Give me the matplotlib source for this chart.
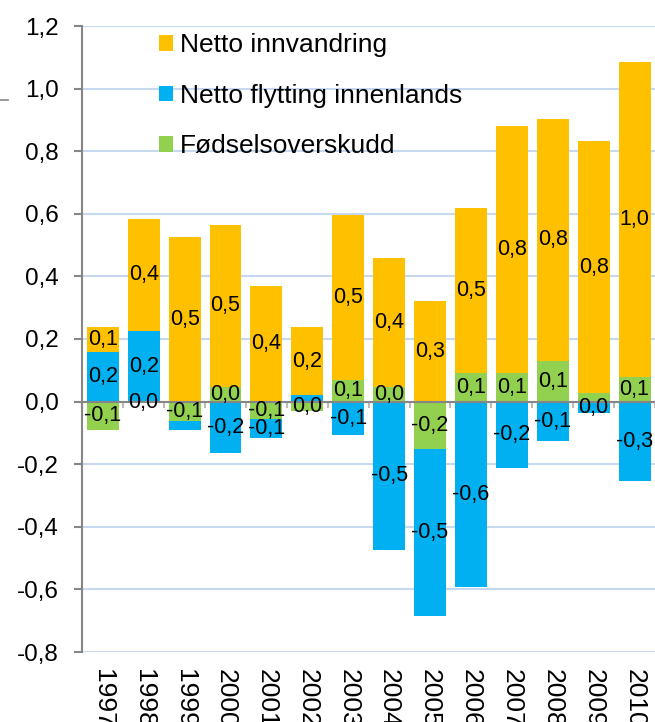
import numpy as np
import matplotlib
matplotlib.use("Agg")
import matplotlib.pyplot as plt
from matplotlib.lines import Line2D

years = ["1997", "1998", "1999", "2000", "2001", "2002", "2003",
         "2004", "2005", "2006", "2007", "2008", "2009", "2010"]

series_names = ["Fødselsoverskudd", "Netto flytting innenlands", "Netto innvandring"]
fodsel = [-0.091, -0.005, -0.061, 0.048, -0.057, -0.030, 0.069,
          0.048, -0.152, 0.092, 0.092, 0.130, 0.026, 0.080]
flytting = [0.158, 0.226, -0.030, -0.165, -0.058, 0.021, -0.107,
            -0.474, -0.532, -0.591, -0.212, -0.125, -0.037, -0.254]
innvandring = [0.079, 0.357, 0.527, 0.517, 0.369, 0.216, 0.527,
               0.411, 0.322, 0.527, 0.789, 0.774, 0.808, 1.005]

fodsel_labels = ["-0,1", "0,0", "-0,1", "0,0", "-0,1", "0,0", "0,1",
                 "0,0", "-0,2", "0,1", "0,1", "0,1", "", "0,1"]
flytting_labels = ["0,2", "0,2", "", "-0,2", "-0,1", "", "-0,1",
                   "-0,5", "-0,5", "-0,6", "-0,2", "-0,1", "0,0", "-0,3"]
innvandring_labels = ["0,1", "0,4", "0,5", "0,5", "0,4", "0,2", "0,5",
                      "0,4", "0,3", "0,5", "0,8", "0,8", "0,8", "1,0"]

yticks = [-0.8, -0.6, -0.4, -0.2, 0.0, 0.2, 0.4, 0.6, 0.8, 1.0, 1.2]
ytick_labels = ["-0,8", "-0,6", "-0,4", "-0,2", "0,0", "0,2", "0,4", "0,6", "0,8", "1,0", "1,2"]

colors = ["#92D050", "#00B0F0", "#FFC000"]

plt.rcParams['font.family'] = ['Liberation Sans', 'DejaVu Sans']

fig = plt.figure(figsize=(6.55, 7.22), dpi=100)
ax = fig.add_axes([82/655, 1-652/722, 1-82/655, (652-26)/722])

n = len(years)
x = np.arange(n)
pos_bottom = np.zeros(n)
neg_bottom = np.zeros(n)
handles = []
for vals, labs, col, name in zip([fodsel, flytting, innvandring],
                                 [fodsel_labels, flytting_labels, innvandring_labels],
                                 colors, series_names):
    v = np.array(vals)
    bottom = np.where(v >= 0, pos_bottom, neg_bottom)
    bars = ax.bar(x, v, 0.78, bottom=bottom, color=col, label=name, zorder=1)
    ax.bar_label(bars, labels=labs, label_type='center', fontsize=15.5, color='black', zorder=5)
    pos_bottom = pos_bottom + np.where(v >= 0, v, 0)
    neg_bottom = neg_bottom + np.where(v < 0, v, 0)
    handles.append(bars)

ax.set_ylim(-0.8, 1.2)
ax.set_xlim(-0.508, 13.37)
ax.set_yticks(yticks, labels=ytick_labels)
ax.tick_params(axis='y', length=6, width=1.5, color='#868686', pad=11, labelsize=17.5)
ax.grid(axis='y', color='#C6D9F1', linewidth=1.5)
ax.set_axisbelow(True)

for s in ['top', 'right']:
    ax.spines[s].set_visible(False)
ax.spines['left'].set_color('#868686')
ax.spines['left'].set_linewidth(1.5)
ax.spines['bottom'].set_position(('data', 0))
ax.spines['bottom'].set_color('#868686')
ax.spines['bottom'].set_linewidth(1.5)
ax.spines['bottom'].set_zorder(3)
ax.set_xticks(np.arange(-0.5, n, 1.0), labels=[''] * (n + 1))
ax.tick_params(axis='x', length=4, width=1.5, color='#BBBBBB', direction='out')

sec = ax.secondary_xaxis('bottom')
sec.set_xticks(x, labels=years)
sec.spines['bottom'].set_visible(False)
sec.tick_params(axis='x', length=0, pad=12, labelsize=19, labelrotation=270)

leg = ax.legend(handles[::-1], series_names[::-1], loc='upper left',
                bbox_to_anchor=(0.116, 1.005), frameon=False, fontsize=19,
                handlelength=0.53, handleheight=0.53, handletextpad=0.25,
                labelspacing=1.0, borderaxespad=0)

fig.add_artist(Line2D([0, 8/655], [1-100/722, 1-100/722], color='#868686', linewidth=1.2))

fig.savefig("out.png", dpi=100)
